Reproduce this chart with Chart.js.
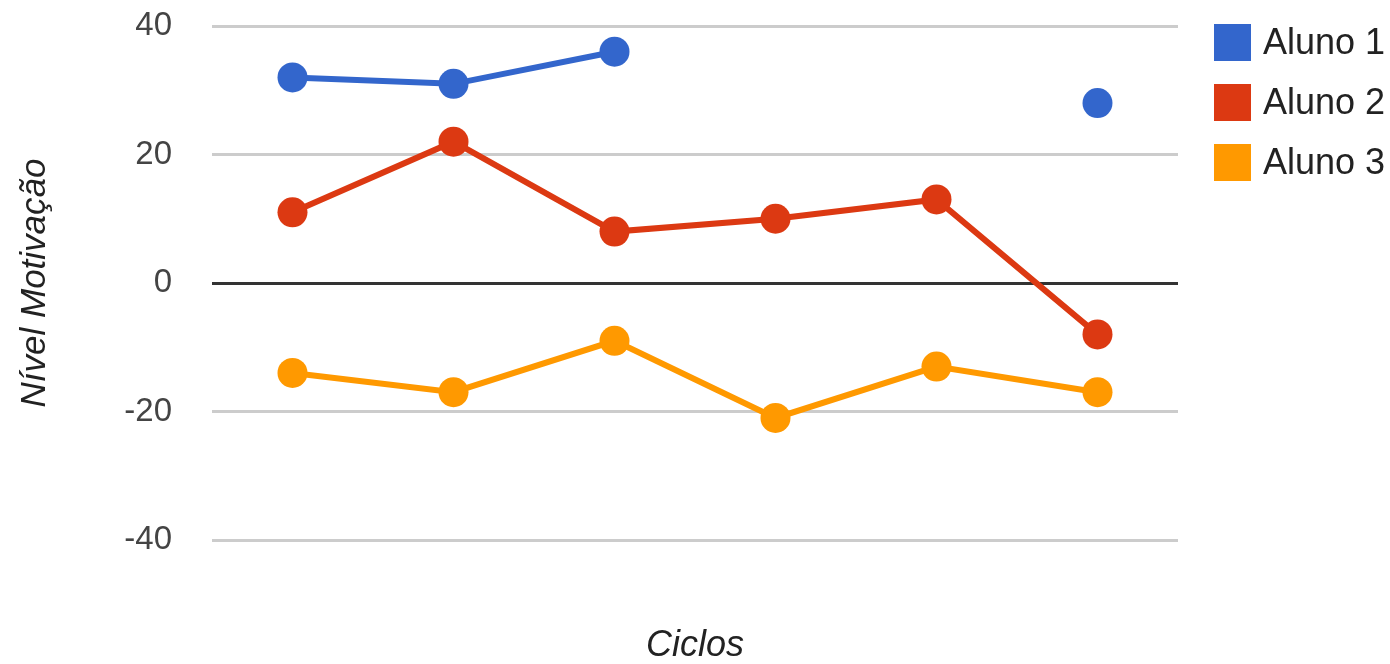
<!DOCTYPE html>
<html>
<head>
<meta charset="utf-8">
<script src="https://cdn.jsdelivr.net/npm/chart.js@4"></script>
<style>
  html, body { margin: 0; padding: 0; background: #ffffff; }
  #wrap { width: 1390px; height: 664px; position: relative; }
</style>
</head>
<body>
<div id="wrap"><canvas id="c" width="1390" height="664"></canvas></div>
<script>
const categories = ['Ciclo 1', 'Ciclo 2', 'Ciclo 3', 'Ciclo 4', 'Ciclo 5', 'Ciclo 6'];
const aluno1 = [32, 31, 36, null, null, 28];
const aluno2 = [11, 22, 8, 10, 13, -8];
const aluno3 = [-14, -17, -9, -21, -13, -17];
const seriesNames = ['Aluno 1', 'Aluno 2', 'Aluno 3'];
const seriesColors = ['#3366cc', '#dc3912', '#ff9900'];
const yMin = -40, yMax = 40, yStep = 20;

const FONT = "'Liberation Sans', Arial, sans-serif";

const legendPlugin = {
  id: 'sideLegend',
  afterDraw(chart) {
    const ctx = chart.ctx;
    ctx.save();
    ctx.font = '36px ' + FONT;
    ctx.textBaseline = 'middle';
    ctx.textAlign = 'left';
    chart.data.datasets.forEach((ds, i) => {
      const top = 24 + i * 60;
      ctx.fillStyle = ds.borderColor;
      ctx.fillRect(1214, top, 37, 37);
      ctx.fillStyle = '#222222';
      ctx.fillText(ds.label, 1263, top + 20);
    });
    ctx.restore();
  }
};

function makeDataset(label, data, color) {
  return {
    label: label,
    data: data,
    borderColor: color,
    backgroundColor: color,
    pointBackgroundColor: color,
    pointBorderColor: color,
    borderWidth: 6,
    pointRadius: 15,
    pointHoverRadius: 15,
    pointBorderWidth: 0,
    tension: 0,
    spanGaps: false
  };
}

new Chart(document.getElementById('c'), {
  type: 'line',
  data: {
    labels: categories,
    datasets: [
      makeDataset(seriesNames[0], aluno1, seriesColors[0]),
      makeDataset(seriesNames[1], aluno2, seriesColors[1]),
      makeDataset(seriesNames[2], aluno3, seriesColors[2])
    ]
  },
  options: {
    responsive: false,
    animation: false,
    devicePixelRatio: 1,
    layout: { padding: { top: 26, right: 212, bottom: 0, left: 0 } },
    plugins: {
      legend: { display: false },
      tooltip: { enabled: false },
      title: { display: false }
    },
    scales: {
      x: {
        offset: true,
        grid: { display: false, drawTicks: false },
        border: { display: false },
        ticks: { display: false },
        title: {
          display: true,
          text: 'Ciclos',
          color: '#222222',
          font: { family: FONT, size: 36, style: 'italic', lineHeight: 1 },
          padding: 0
        },
        afterFit(scale) { scale.height = 124; scale.paddingLeft = 0; scale.paddingRight = 0; }
      },
      y: {
        min: yMin,
        max: yMax,
        grid: {
          color: (c) => (c.tick && c.tick.value === 0) ? '#333333' : '#cccccc',
          lineWidth: 3,
          drawTicks: false
        },
        border: { display: false },
        ticks: {
          stepSize: yStep,
          padding: 40,
          color: '#444444',
          font: { family: FONT, size: 33 },
          callback: (v) => String(v)
        },
        title: {
          display: true,
          text: 'Nível Motivação',
          color: '#222222',
          font: { family: FONT, size: 35, style: 'italic', lineHeight: 1.2 },
          padding: { top: 14, bottom: 0 }
        },
        afterFit(scale) { scale.width = 212; scale.paddingTop = 0; scale.paddingBottom = 0; }
      }
    }
  },
  plugins: [legendPlugin]
});
</script>
</body>
</html>
